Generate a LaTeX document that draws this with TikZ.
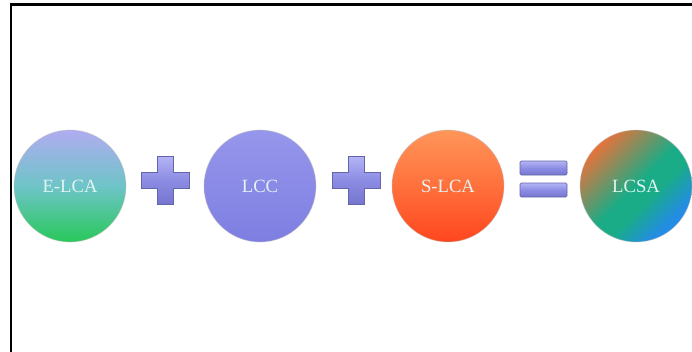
\documentclass[tikz,border=0pt]{standalone}
\usepackage{fontspec}
\setmainfont{Liberation Serif}
\usetikzlibrary{shadings}
\definecolor{eTop}{RGB}{176,172,240}
\definecolor{eMid}{RGB}{110,196,200}
\definecolor{eBot}{RGB}{40,200,90}
\definecolor{cTop}{RGB}{150,150,236}
\definecolor{cBot}{RGB}{126,126,226}
\definecolor{sTop}{RGB}{255,150,90}
\definecolor{sMid}{RGB}{255,112,60}
\definecolor{sBot}{RGB}{255,70,30}
\definecolor{aOr}{RGB}{238,112,55}
\definecolor{aTeal}{RGB}{25,172,135}
\definecolor{aBlue}{RGB}{35,140,228}
\definecolor{pTop}{RGB}{180,180,245}
\definecolor{pMid}{RGB}{140,140,228}
\definecolor{pBot}{RGB}{118,118,208}
\definecolor{pEdge}{RGB}{100,100,170}
\definecolor{txt}{RGB}{225,245,240}
\pgfdeclareverticalshading{lcsashade}{100bp}{color(0bp)=(aBlue); color(28bp)=(aBlue);
  color(42bp)=(aTeal); color(50bp)=(aTeal); color(76bp)=(aOr); color(100bp)=(aOr)}
\begin{document}
\begin{tikzpicture}[x=0.75pt,y=-0.75pt,
  ball/.style={circle, minimum size=84pt, inner sep=0pt,
    font=\fontsize{14}{16}\selectfont, text=txt,
    draw=black!25, line width=0.6pt, draw opacity=0.5},
  signfill/.style={top color=pTop, bottom color=pBot, middle color=pMid,
    draw=pEdge, line width=0.5pt},
]
\useasboundingbox (0,0) rectangle (692,351);
% frame
\draw[line width=1.6pt] (11,400) -- (11,4.5) -- (720,4.5);

% balls
\node[ball, top color=eTop, bottom color=eBot, middle color=eMid] (elca) at (70,186) {E-LCA};
\node[ball, top color=cTop, bottom color=cBot] (lcc) at (260,186) {LCC};
\node[ball, top color=sTop, bottom color=sBot, middle color=sMid] (slca) at (448,186) {S-LCA};
\node[ball, shading=lcsashade, shading angle=45] (lcsa) at (636,186) {LCSA};

% plus signs
\foreach \cx in {165,356}{
  \shade[signfill] (\cx-8,180-24) -- (\cx+8,180-24) -- (\cx+8,180-8) -- (\cx+24,180-8)
    -- (\cx+24,180+8) -- (\cx+8,180+8) -- (\cx+8,180+24) -- (\cx-8,180+24)
    -- (\cx-8,180+8) -- (\cx-24,180+8) -- (\cx-24,180-8) -- (\cx-8,180-8) -- cycle;
}
% equals sign
\shade[signfill, rounded corners=1pt] (520,161) rectangle (567,175);
\shade[signfill, rounded corners=1pt] (520,183) rectangle (567,197);
\end{tikzpicture}
\end{document}
